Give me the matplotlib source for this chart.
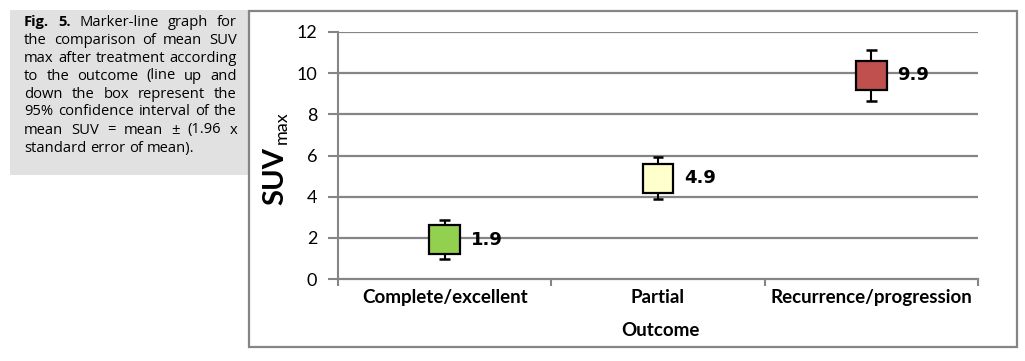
import matplotlib
matplotlib.use('Agg')
import matplotlib.pyplot as plt
from matplotlib.patches import Rectangle

# data
categories = ['Complete/excellent', 'Partial', 'Recurrence/progression']
means = [1.9, 4.9, 9.9]
box_low = [1.21, 4.19, 9.18]
box_high = [2.62, 5.59, 10.61]
ci_low = [0.97, 3.90, 8.65]
ci_high = [2.87, 5.91, 11.13]
colors = ['#92D050', '#FFFFCC', '#C0504D']
yticks = [0, 2, 4, 6, 8, 10, 12]

caption = [
    [('Fig.', 'bold'), ('5.', 'bold'), ('Marker-line', 'normal'), ('graph', 'normal'), ('for', 'normal')],
    'the comparison of mean SUV',
    'max after treatment according',
    'to the outcome (line up and',
    'down the box represent the',
    '95% confidence interval of the',
    'mean SUV =  mean \u00b1 (1.96 x',
    'standard error of mean).',
]

W, H = 1025, 361
fig = plt.figure(figsize=(W / 100, H / 100), dpi=100)
fig.patch.set_facecolor('white')


def fx(px):
    return px / W


def fy(py):
    return 1 - py / H


# caption box and chart frame
fig.patches.append(Rectangle((fx(10), fy(175)), fx(238), (165) / H, transform=fig.transFigure,
                             facecolor='#E1E1E1', edgecolor='none', zorder=0))
fig.patches.append(Rectangle((fx(249), fy(347)), fx(768), 336 / H, transform=fig.transFigure,
                             facecolor='none', edgecolor='#858585', lw=1.6, zorder=1))

ax = fig.add_axes([fx(338), fy(279), fx(640), 247 / H])
ax.set_facecolor('none')
x = [i + 0.5 for i in range(len(categories))]
bw = 0.145

for xi, m, bl, bh, cl, ch, c in zip(x, means, box_low, box_high, ci_low, ci_high, colors):
    ax.vlines(xi, cl, ch, color='black', lw=1.5, zorder=3)
    ax.hlines([cl, ch], xi - 0.025, xi + 0.025, color='black', lw=1.8, zorder=3)
    ax.bar(xi, bh - bl, bottom=bl, width=bw, color=c, edgecolor='black', lw=1.6, zorder=4)
    ax.text(xi + bw / 2 + 0.05, m, f'{m:.1f}', fontsize=13, fontweight='bold',
            family='DejaVu Sans', va='center', ha='left', zorder=5)

ax.set_xlim(0, 3)
ax.set_ylim(0, 12)
ax.set_yticks(yticks)
ax.set_yticklabels([str(t) for t in yticks], family='Lato', fontsize=13)
ax.set_xticks([0, 1, 2, 3])
ax.set_xticklabels([])
ax.set_xticks(x, minor=True)
ax.set_xticklabels(categories, minor=True, family='Lato', fontsize=13.5, fontweight='bold')
ax.tick_params(axis='x', which='minor', length=0, pad=7)
ax.tick_params(axis='x', which='major', length=5, width=1.5, color='#858585', direction='out')
ax.tick_params(axis='y', length=7, width=1.5, color='#858585', pad=8)
for t in yticks[1:]:
    ax.axhline(t, color='#858585', lw=1.6, zorder=1)
for s in ['top', 'right']:
    ax.spines[s].set_visible(False)
ax.spines['left'].set_color('#858585')
ax.spines['left'].set_linewidth(1.5)
ax.spines['bottom'].set_color('#858585')
ax.spines['bottom'].set_linewidth(1.6)

fig.text(fx(660), fy(331), 'Outcome', family='Lato', fontsize=13.5, fontweight='bold',
         ha='center', va='center')
fig.text(fx(275), fy(176), 'SUV', family='Lato', fontsize=21, fontweight='bold',
         rotation=90, ha='center', va='center')
fig.text(fx(282), fy(128), 'max', family='Lato', fontsize=13,
         rotation=90, ha='center', va='center')

# justified caption
renderer = fig.canvas.get_renderer()
left, right = 24, 237
for i, line in enumerate(caption):
    words = line if isinstance(line, list) else [(w, 'normal') for w in line.split(' ') if w]
    yy = fy(22 + i * 18)
    texts = []
    total = 0
    for w, wt in words:
        t = fig.text(0, yy, w, family='Open Sans', fontsize=10.6, fontweight=wt,
                     ha='left', va='center')
        wpx = t.get_window_extent(renderer).width
        texts.append((t, wpx))
        total += wpx
    last = i == len(caption) - 1
    gap = (right - left - total) / (len(texts) - 1) if not last else 4
    pos = left
    for t, wpx in texts:
        t.set_x(fx(pos))
        pos += wpx + gap

fig.savefig('out.png', dpi=100)
